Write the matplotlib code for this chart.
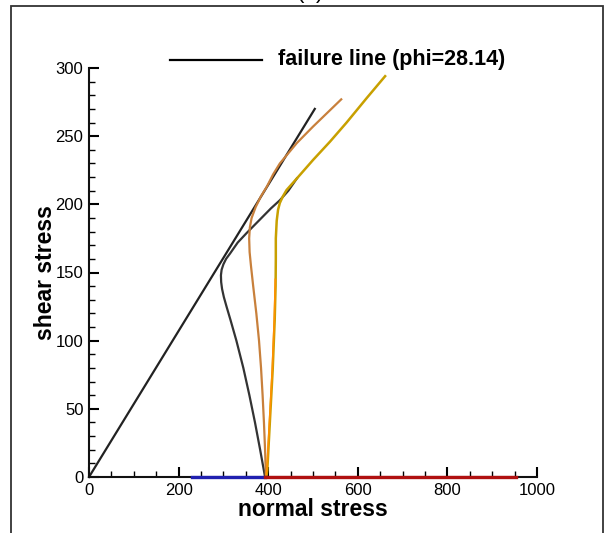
import matplotlib
matplotlib.use('Agg')
import matplotlib.pyplot as plt
from matplotlib.lines import Line2D
from matplotlib.patches import Rectangle
from matplotlib.ticker import MultipleLocator

plt.rcParams['font.family'] = ['Liberation Sans', 'DejaVu Sans']

# failure line (phi = 28.14 deg)
failure_x = [0, 504]
failure_y = [0, 270]

# stress path 1 (dark grey)
path1_x = [393, 382, 370.5, 358, 344.5, 329, 316, 307, 301, 297, 295, 294.5, 296, 300, 306, 315, 332, 352, 370, 388, 406, 426, 445, 464]
path1_y = [0, 20, 40, 60, 80, 100, 115, 125, 132, 138, 143, 148, 152, 156, 160, 164, 172, 179, 185, 191, 197, 203, 210, 219]

# stress path 2 (brown-orange)
path2_x = [395, 393, 390.5, 387.5, 384, 379.5, 373.5, 366.5, 361.5, 358.5, 357.5, 359, 363, 372, 384, 397, 411, 426, 464, 500, 563]
path2_y = [0, 20, 40, 60, 80, 100, 120, 140, 155, 165, 175, 183, 190, 198, 206, 213, 222, 230, 245, 257, 277]

# stress path 3 (gold)
path3_x = [396, 398, 404, 410, 414.5, 416.5, 417, 417, 419, 422, 426, 433, 441, 464, 500, 538, 575, 620, 661]
path3_y = [0, 5, 42, 78.5, 115, 140, 160, 175, 188, 196, 201, 206, 210.5, 219, 232.5, 246, 260, 278, 294]

# stress path 4 (orange, lower part overlapping path 3)
path4_x = [395, 397, 403, 409, 413.5, 416]
path4_y = [0, 5, 42, 78.5, 115, 145]

# coloured segments lying on the normal stress axis
blue_x = [229, 393]
red_x = [393, 954]

W, H = 609, 533
fig = plt.figure(figsize=(W / 100, H / 100), dpi=100)
fig.patch.set_facecolor('white')
ax = fig.add_axes([89 / W, 1 - 477 / H, 448 / W, 409 / H])

ax.plot(failure_x, failure_y, color='#222222', lw=1.6, clip_on=False)
ax.plot(path1_x, path1_y, color='#333333', lw=1.6, clip_on=False)
ax.plot(path2_x, path2_y, color='#c8803c', lw=1.6, clip_on=False)
ax.plot(path3_x, path3_y, color='#c8a000', lw=1.8, clip_on=False)
ax.plot(path4_x, path4_y, color='#ff9000', lw=1.2, clip_on=False)
ax.plot(blue_x, [0, 0], color='#2020b0', lw=2.4, clip_on=False, zorder=5)
ax.plot(red_x, [0, 0], color='#b01010', lw=2.4, clip_on=False, zorder=5)

ax.set_xlim(0, 1000)
ax.set_ylim(0, 300)
ax.spines['top'].set_visible(False)
ax.spines['right'].set_visible(False)
for s in ('left', 'bottom'):
    ax.spines[s].set_linewidth(1.5)
    ax.spines[s].set_color('#111111')

ax.xaxis.set_major_locator(MultipleLocator(200))
ax.xaxis.set_minor_locator(MultipleLocator(50))
ax.yaxis.set_major_locator(MultipleLocator(50))
ax.yaxis.set_minor_locator(MultipleLocator(10))
ax.tick_params(which='major', direction='in', length=7.5, width=1.5, labelsize=12, pad=4)
ax.tick_params(which='minor', direction='in', length=4, width=1)

ax.set_xlabel('normal stress', fontsize=16.5, fontweight='bold', labelpad=0)
ax.set_ylabel('shear stress', fontsize=16.5, fontweight='bold', labelpad=-1)

# legend drawn like the original tecplot legend
fig.add_artist(Line2D([170 / W, 262 / W], [1 - 60 / H, 1 - 60 / H], color='black', lw=1.6,
                      transform=fig.transFigure))
fig.text(278 / W, 1 - 60 / H, 'failure line (phi=28.14)', fontsize=15.5, fontweight='bold',
         ha='left', va='center')

# outer frame and cut-off title
fig.add_artist(Rectangle((11 / W, -0.05), 592 / W, 1.05 - 6 / H, transform=fig.transFigure,
                         fill=False, edgecolor='#333333', lw=1.3))
fig.text(310 / W, 1 - 3 / H, '(a)', fontsize=16, ha='center', va='bottom')

fig.savefig('out.png', dpi=100)
